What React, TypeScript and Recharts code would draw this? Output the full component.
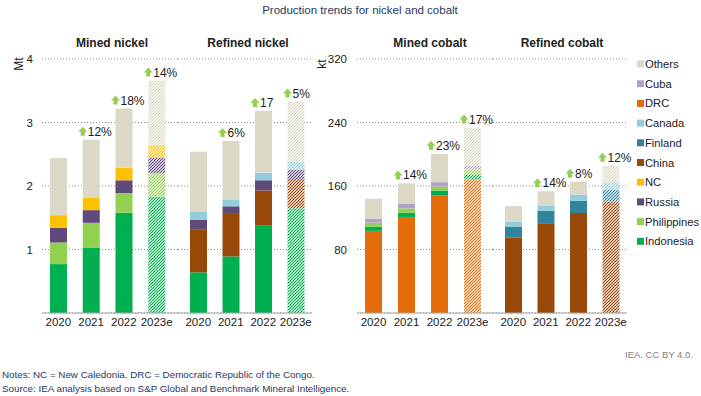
import { BarChart, Bar, XAxis, YAxis, CartesianGrid, Cell, LabelList } from "recharts";

const YEARS = ["2020", "2021", "2022", "2023e"];

// Mined nickel (Mt)
const mnIndonesia = [0.77, 1.03, 1.58, 1.83];
const mnPhilippines = [0.34, 0.39, 0.31, 0.37];
const mnRussia = [0.23, 0.2, 0.2, 0.25];
const mnNC = [0.2, 0.19, 0.2, 0.2];
const mnOthers = [0.9, 0.92, 0.93, 1.01];
const mnGrowth = ["", "12%", "18%", "14%"];

// Refined nickel (Mt)
const rnIndonesia = [0.64, 0.89, 1.38, 1.65];
const rnChina = [0.68, 0.67, 0.55, 0.46];
const rnRussia = [0.15, 0.12, 0.16, 0.15];
const rnCanada = [0.12, 0.1, 0.12, 0.12];
const rnOthers = [0.95, 0.93, 0.97, 0.95];
const rnGrowth = ["", "6%", "17", "5%"];

// Mined cobalt (kt)
const mcDRC = [103.5, 121, 148, 168];
const mcIndonesia = [5.4, 5.4, 6.3, 6.3];
const mcPhilippines = [5, 5.4, 5, 6.3];
const mcCuba = [5, 5.5, 5.5, 5];
const mcOthers = [25, 26, 35.7, 48];
const mcGrowth = ["", "14%", "23%", "17%"];

// Refined cobalt (kt)
const rcChina = [95, 113, 126, 140.5];
const rcFinland = [13.9, 15.9, 15.5, 14.7];
const rcCanada = [5.9, 5.9, 7.6, 8.5];
const rcOthers = [19.8, 18.6, 16.4, 21.8];
const rcGrowth = ["", "14%", "8%", "12%"];

const COLORS: Record<string, string> = {
  Others: "#dcd8c6",
  Cuba: "#b3a2c7",
  DRC: "#e46c0a",
  Canada: "#93cddd",
  Finland: "#31849b",
  China: "#984807",
  NC: "#ffc000",
  Russia: "#604a7b",
  Philippines: "#92d050",
  Indonesia: "#00b050",
};
const LEGEND = ["Others", "Cuba", "DRC", "Canada", "Finland", "China", "NC", "Russia", "Philippines", "Indonesia"];

const FONT = "'Liberation Sans', Arial, sans-serif";

type Series = { name: string; values: number[] };

function buildRows(series: Series[], growth: string[]) {
  return YEARS.map((year, i) => {
    const row: Record<string, string | number> = { year, growth: growth[i] };
    series.forEach((s) => (row[s.name] = s.values[i]));
    return row;
  });
}

function GrowthLabel(props: any) {
  const { x, y, width, value } = props;
  if (!value) return null;
  const cx = x + width / 2;
  const ty = y - 4;
  const ax = cx - 13;
  const ay = ty - 9;
  return (
    <g>
      <path
        d={`M${ax},${ay + 5} L${ax + 4.5},${ay} L${ax + 9},${ay + 5} L${ax + 6.5},${ay + 5} L${ax + 6.5},${ay + 9} L${ax + 2.5},${ay + 9} L${ax + 2.5},${ay + 5} Z`}
        fill="#92d050"
      />
      <text x={cx - 3.5} y={ty} fontSize={12} fill="#222" fontFamily={FONT}>
        {value}
      </text>
    </g>
  );
}

interface PanelProps {
  series: Series[];
  growth: string[];
  left: number;
  width: number;
  padL: number;
  padR: number;
  max: number;
  ticks: number[];
  showY: boolean;
  tickMargin: number;
  extraRight?: number;
}

function Panel({ series, growth, left, width, padL, padR, max, ticks, showY, tickMargin, extraRight = 0 }: PanelProps) {
  const rows = buildRows(series, growth);
  return (
    <div style={{ position: "absolute", left, top: 0 }}>
      <BarChart
        width={width + extraRight}
        height={340}
        data={rows}
        margin={{ top: 59, right: extraRight, bottom: 0, left: 0 }}
      >
        <CartesianGrid vertical={false} strokeDasharray="1 2" stroke="#8c8c8c" />
        <XAxis
          dataKey="year"
          tickSize={0}
          tickMargin={5}
          height={27}
          interval={0}
          padding={{ left: padL, right: padR }}
          axisLine={{ stroke: "#a6a6a6" }}
          tick={{ fill: "#222", fontSize: 11.5, fontFamily: FONT }}
        />
        <YAxis
          hide={!showY}
          width={showY ? 42 : 0}
          domain={[0, max]}
          ticks={ticks}
          tickSize={0}
          tickMargin={tickMargin}
          axisLine={false}
          tickLine={false}
          tickFormatter={(v: number) => (v === 0 ? "" : String(v))}
          tick={{ fill: "#222", fontSize: 11.5, fontFamily: FONT }}
        />
        {series.map((s, si) => (
          <Bar key={s.name} dataKey={s.name} stackId="a" barSize={17} isAnimationActive={false}>
            {rows.map((_, i) => (
              <Cell key={i} fill={i === 3 ? `url(#hatch-${s.name})` : COLORS[s.name]} />
            ))}
            {si === series.length - 1 ? <LabelList dataKey="growth" content={GrowthLabel} /> : null}
          </Bar>
        ))}
      </BarChart>
    </div>
  );
}

export default function App() {
  return (
    <div style={{ position: "absolute", left: 0, top: 0, width: 701, height: 396, background: "#fff", fontFamily: FONT }}>
      <svg width={0} height={0} style={{ position: "absolute" }}>
        <defs>
          {Object.keys(COLORS).map((k) => (
            <pattern key={k} id={`hatch-${k}`} patternUnits="userSpaceOnUse" width={3} height={3}>
              <rect width={3} height={3} fill="#fff" />
              <path d="M-0.75,0.75 l1.5,-1.5 M0,3 l3,-3 M2.25,3.75 l1.5,-1.5" stroke={COLORS[k]} strokeWidth={1.2} />
            </pattern>
          ))}
        </defs>
      </svg>

      <Panel
        series={[
          { name: "Indonesia", values: mnIndonesia },
          { name: "Philippines", values: mnPhilippines },
          { name: "Russia", values: mnRussia },
          { name: "NC", values: mnNC },
          { name: "Others", values: mnOthers },
        ]}
        growth={mnGrowth}
        left={0}
        width={178}
        padL={0}
        padR={5}
        max={4}
        ticks={[0, 1, 2, 3, 4]}
        showY
        tickMargin={9}
      />
      <Panel
        series={[
          { name: "Indonesia", values: rnIndonesia },
          { name: "China", values: rnChina },
          { name: "Russia", values: rnRussia },
          { name: "Canada", values: rnCanada },
          { name: "Others", values: rnOthers },
        ]}
        growth={rnGrowth}
        left={178}
        width={134}
        padL={4}
        padR={0}
        max={4}
        ticks={[0, 1, 2, 3, 4]}
        showY={false}
        tickMargin={9}
      />
      <Panel
        series={[
          { name: "DRC", values: mcDRC },
          { name: "Indonesia", values: mcIndonesia },
          { name: "Philippines", values: mcPhilippines },
          { name: "Cuba", values: mcCuba },
          { name: "Others", values: mcOthers },
        ]}
        growth={mcGrowth}
        left={315}
        width={178}
        padL={0}
        padR={4}
        max={320}
        ticks={[0, 80, 160, 240, 320]}
        showY
        tickMargin={10}
      />
      <Panel
        series={[
          { name: "China", values: rcChina },
          { name: "Finland", values: rcFinland },
          { name: "Canada", values: rcCanada },
          { name: "Others", values: rcOthers },
        ]}
        growth={rcGrowth}
        left={493}
        width={134}
        padL={4}
        padR={0}
        max={320}
        ticks={[0, 80, 160, 240, 320]}
        showY={false}
        tickMargin={10}
        extraRight={10}
      />

      <svg width={701} height={396} style={{ position: "absolute", left: 0, top: 0, pointerEvents: "none" }} fontFamily={FONT}>
        <text x={360} y={14} textAnchor="middle" fontSize={11.5} fill="#1f3864">
          Production trends for nickel and cobalt
        </text>
        <text x={112} y={47} textAnchor="middle" fontSize={12} fontWeight="bold" fill="#222">Mined nickel</text>
        <text x={248} y={47} textAnchor="middle" fontSize={12} fontWeight="bold" fill="#222">Refined nickel</text>
        <text x={430} y={47} textAnchor="middle" fontSize={12} fontWeight="bold" fill="#222">Mined cobalt</text>
        <text x={562} y={47} textAnchor="middle" fontSize={12} fontWeight="bold" fill="#222">Refined cobalt</text>
        <text x={23} y={64} textAnchor="middle" fontSize={12} fill="#222" transform="rotate(-90 23 64)">Mt</text>
        <text x={326} y={64} textAnchor="middle" fontSize={12} fill="#222" transform="rotate(-90 326 64)">kt</text>
        {LEGEND.map((name, i) => {
          const cy = 64 + i * 19.7;
          return (
            <g key={name}>
              <rect x={637} y={cy - 3.5} width={7} height={7} fill={COLORS[name]} />
              <text x={645} y={cy + 4} fontSize={11.2} fill="#222">{name}</text>
            </g>
          );
        })}
        <text x={625} y={358} fontSize={9.5} fill="#7f7f7f">IEA. CC BY 4.0.</text>
        <text x={2} y={378} fontSize={9.8} fill="#1f3864">
          Notes: NC = New Caledonia. DRC = Democratic Republic of the Congo.
        </text>
        <text x={2} y={392} fontSize={9.8} fill="#1f3864">
          Source: IEA analysis based on S&amp;P Global and Benchmark Mineral Intelligence.
        </text>
      </svg>
    </div>
  );
}
